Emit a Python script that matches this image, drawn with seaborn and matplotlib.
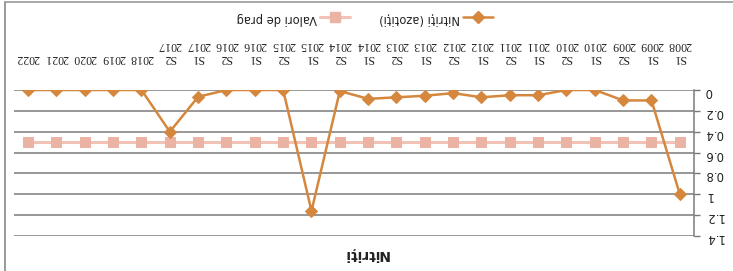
import matplotlib
matplotlib.use("Agg")
import matplotlib.pyplot as plt
import seaborn as sns
import pandas as pd
from matplotlib.lines import Line2D

categories = ["S1\n2008", "S1\n2009", "S2\n2009", "S1\n2010", "S2\n2010",
              "S1\n2011", "S2\n2011", "S1\n2012", "S2\n2012", "S1\n2013",
              "S2\n2013", "S1\n2014", "S2\n2014", "S1\n2015", "S2\n2015",
              "S1\n2016", "S2\n2016", "S1\n2017", "S2\n2017",
              "2018", "2019", "2020", "2021", "2022"]
nitriti = [1.0, 0.1, 0.1, 0.0, 0.0, 0.05, 0.05, 0.07, 0.03, 0.055,
           0.07, 0.085, 0.01, 1.16, 0.0, 0.0, 0.0, 0.065, 0.40,
           0.0, 0.0, 0.0, 0.0, 0.0]
prag = [0.5, 0.5, 0.5, 0.5, 0.5, 0.5, 0.5, 0.5, 0.5, 0.5,
        0.5, 0.5, 0.5, 0.5, 0.5, 0.5, 0.5, 0.5, 0.5,
        0.5, 0.5, 0.5, 0.5, 0.5]
yticks = [0, 0.2, 0.4, 0.6, 0.8, 1.0, 1.2, 1.4]
ytick_labels = ["0", "0.2", "0.4", "0.6", "0.8", "1", "1.2", "1.4"]

name_n = "Nitriți (azotiți)"
name_p = "Valori de prag"
title = "Nitriți"

sns.set_theme(style="white")
plt.rcParams['font.family'] = ['DejaVu Sans']

df = pd.DataFrame({"cat": categories, "n": nitriti, "p": prag})

fig = plt.figure(figsize=(7.33, 2.71), dpi=100)
W, H = 733, 271
ax = fig.add_axes([14 / W, 1 - 236 / H, (694 - 14) / W, (236 - 90) / H])

orange = "#D5873E"
pink = "#F1C3B6"
pink_m = "#EBB3A3"

sns.lineplot(data=df, x="cat", y="p", ax=ax, color=pink, lw=2.2,
             marker="s", markersize=6.5, markerfacecolor=pink_m,
             markeredgecolor=pink_m, sort=False, zorder=3)
sns.lineplot(data=df, x="cat", y="n", ax=ax, color=orange, lw=1.8,
             marker="D", markersize=6, markerfacecolor=orange,
             markeredgecolor=orange, sort=False, zorder=4)

ax.set_xlim(-0.5, len(categories) - 0.5)
ax.set_ylim(0, 1.4)
ax.invert_xaxis()
ax.invert_yaxis()

ax.set_yticks(yticks)
ax.set_yticklabels(ytick_labels)
ax.yaxis.tick_right()
ax.xaxis.tick_top()
ax.set_xticks(range(len(categories)))
ax.set_xticklabels(categories)
ax.set_xlabel("")
ax.set_ylabel("")

for t in ax.get_xticklabels():
    t.set_rotation(180)
    t.set_fontsize(8.6)
    t.set_family("Liberation Serif")
    t.set_color("#222222")
    t.set_multialignment("center")
    t.set_linespacing(1.05)
for t in ax.get_yticklabels():
    t.set_rotation(180)
    t.set_fontsize(8.5)
    t.set_color("#222222")
    t.set_ha("left")

ax.tick_params(axis="x", length=0, pad=19)
ax.tick_params(axis="y", length=4, width=1, color="#777777", pad=4, right=True)

ax.grid(axis="y", color="#7a7a7a", lw=1.1)
ax.grid(axis="x", visible=False)
for s in ["left", "bottom", "top"]:
    ax.spines[s].set_visible(False)
ax.spines["right"].set_visible(True)
ax.spines["right"].set_color("#7a7a7a")
ax.spines["right"].set_linewidth(1.1)

# legend
h_p = Line2D([], [], color=pink, lw=2.2, marker="s", markersize=6.5,
             markerfacecolor=pink_m, markeredgecolor=pink_m)
h_n = Line2D([], [], color=orange, lw=1.8, marker="D", markersize=6,
             markerfacecolor=orange, markeredgecolor=orange)
leg = fig.legend([h_p, h_n], [name_p, name_n], loc="center",
                 bbox_to_anchor=(365 / W, 1 - 18 / H), ncol=2, frameon=False,
                 markerfirst=False, fontsize=8.3, handlelength=2.6,
                 columnspacing=2.5, handletextpad=0.3)
for t in leg.get_texts():
    t.set_rotation(180)
    t.set_color("#222222")

fig.text(366 / W, 1 - 254 / H, title, rotation=180, ha="center", va="center",
         fontsize=10, weight="bold", color="#222222")

# chart frame (scanned border)
fig.add_artist(Line2D([5 / W, 5 / W], [0, 1 - 2 / H], transform=fig.transFigure,
                      color="#888888", lw=1.2))
fig.add_artist(Line2D([5 / W, 1], [1 - 2 / H, 1 - 2 / H], transform=fig.transFigure,
                      color="#999999", lw=1.2))

fig.savefig("out.png", dpi=100)
